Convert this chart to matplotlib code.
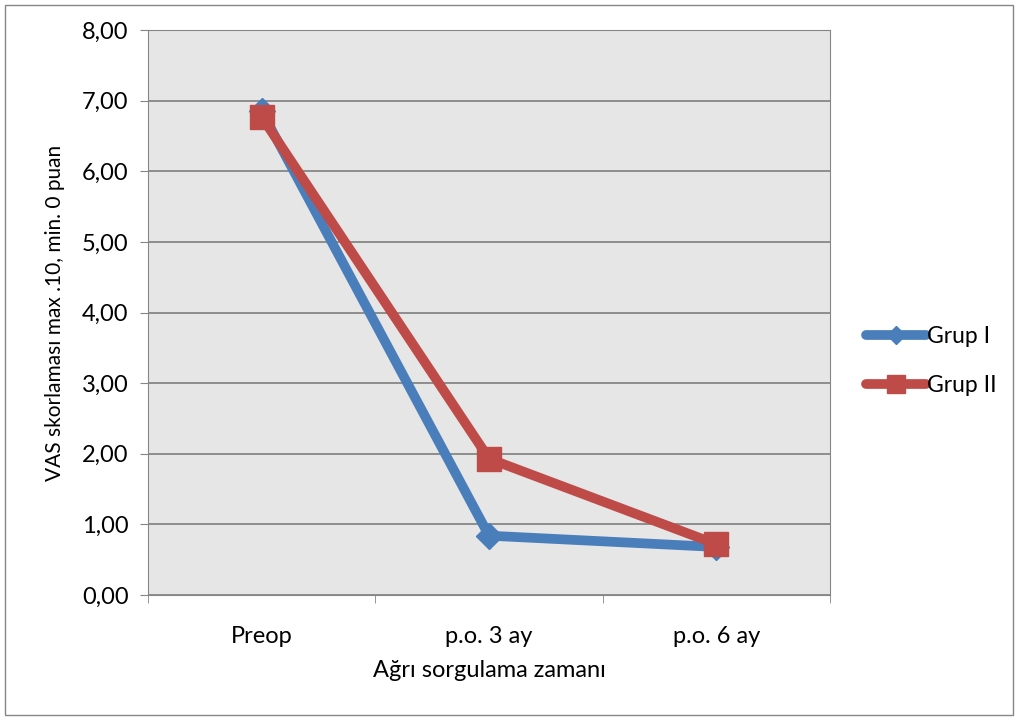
import numpy as np
import matplotlib.pyplot as plt
from matplotlib.ticker import FuncFormatter

# zaman noktalari ve VAS ortalamalari
zamanlar = ["Preop", "p.o. 3 ay", "p.o. 6 ay"]
grup1 = [6.85, 0.84, 0.68]
grup2 = [6.77, 1.93, 0.72]
seri_adlari = ["Grup I", "Grup II"]

plt.rcParams['font.family'] = ['Lato', 'DejaVu Sans']

fig = plt.figure(figsize=(10.18, 7.2), dpi=100)
ax = fig.add_axes([148 / 1018, 1 - 595 / 720, 682 / 1018, 565 / 720])

# dis cerceve
fig.patches.append(plt.Rectangle((5 / 1018, 5 / 720), 1008 / 1018, 710 / 720,
                                 transform=fig.transFigure, fill=False,
                                 edgecolor='#868686', linewidth=1))

ax.set_facecolor('#E6E6E6')
x = np.arange(len(zamanlar))
ax.plot(x, grup1, color='#4A7EBB', linewidth=7, marker='D', markersize=13,
        markerfacecolor='#4A7EBB', markeredgecolor='#4A7EBB', label=seri_adlari[0],
        solid_joinstyle='round', solid_capstyle='round', zorder=3)
ax.plot(x, grup2, color='#BE4B48', linewidth=7, marker='s', markersize=17,
        markerfacecolor='#BE4B48', markeredgecolor='#BE4B48', label=seri_adlari[1],
        solid_joinstyle='round', solid_capstyle='round', zorder=4)

ax.set_xlim(-0.5, 2.5)
ax.set_ylim(0, 8)
ax.set_yticks(np.arange(0, 9, 1))
ax.yaxis.set_major_formatter(FuncFormatter(lambda v, p: f"{v:.2f}".replace('.', ',')))
ax.set_xticks(x)
ax.set_xticklabels(zamanlar)
ax.set_xticks([-0.5, 0.5, 1.5, 2.5], minor=True)
ax.tick_params(axis='x', which='major', length=0, pad=22, labelsize=17)
ax.tick_params(axis='x', which='minor', length=6, color='#868686')
ax.tick_params(axis='y', length=6, color='#868686', labelsize=17, pad=8)
ax.grid(axis='y', color='#868686', linewidth=1.3)
ax.set_axisbelow(True)
for s in ax.spines.values():
    s.set_color('#868686')

ax.set_xlabel("Ağrı sorgulama zamanı", fontsize=17, labelpad=10)
ax.set_ylabel("VAS skorlaması max .10, min. 0 puan", fontsize=15, labelpad=12)

leg = fig.legend(loc='center left', bbox_to_anchor=(866 / 1018, 1 - 361 / 720),
                 frameon=False, fontsize=16.5, handlelength=2.6, labelspacing=1.2,
                 handletextpad=0.05, borderpad=0, borderaxespad=0)
for h, ms in zip(leg.legend_handles, [9, 13]):
    h.set_markersize(ms)

fig.savefig("out.png", dpi=100)
